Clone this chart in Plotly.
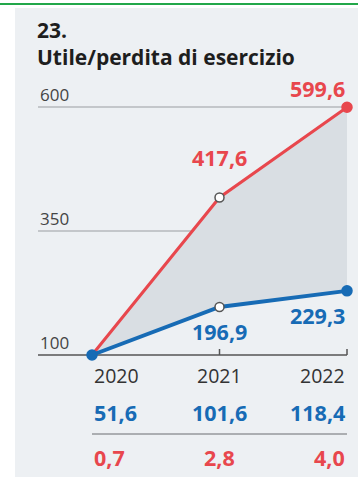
import plotly.graph_objects as go

# Data
years = [2020, 2021, 2022]
index_top = [100.0, 417.6, 599.6]      # red series (index, 2020 = 100)
index_bottom = [100.0, 196.9, 229.3]   # blue series (index, 2020 = 100)
row_blue = ["51,6", "101,6", "118,4"]
row_red = ["0,7", "2,8", "4,0"]
y_ticks = [100, 350, 600]
top_labels = ["", "417,6", "599,6"]
bottom_labels = ["", "196,9", "229,3"]
title_lines = ["23.", "Utile/perdita di esercizio"]

RED = "#e8474d"
BLUE = "#176bb5"
FILL = "#d9dee3"
CARD = "#edf0f3"
GREEN = "#22a74a"
FONT = "Open Sans"

W, H = 358, 477
ML, MR, MT, MB = 38, 6, 100, 115
PW, PH = W - ML - MR, H - MT - MB


def px_x(px):
    return (px - ML) / PW


def px_y(px):
    return (H - MB - px) / PH


fig = go.Figure()

# shaded band between the two series
fig.add_trace(go.Scatter(x=years, y=index_bottom, mode="lines",
                         line=dict(width=0), hoverinfo="skip", showlegend=False))
fig.add_trace(go.Scatter(x=years, y=index_top, mode="lines", fill="tonexty",
                         fillcolor=FILL, line=dict(width=0), hoverinfo="skip",
                         showlegend=False))


def marker_style(color, first_size):
    return dict(
        size=[first_size, 9, 10],
        color=[color, "white", color],
        line=dict(color=[color, "#555555", color], width=1.5),
        opacity=1,
    )


fig.add_trace(go.Scatter(x=years, y=index_top, mode="lines+markers",
                         line=dict(color=RED, width=3), marker=marker_style(RED, 0),
                         cliponaxis=False, showlegend=False))
fig.add_trace(go.Scatter(x=years, y=index_bottom, mode="lines+markers",
                         line=dict(color=BLUE, width=4), marker=marker_style(BLUE, 10),
                         cliponaxis=False, showlegend=False))

x0 = 2020 - 54 / 127.5
x1 = 2022 + 5 / 127.5

shapes = [
    # card background
    dict(type="rect", xref="paper", yref="paper", x0=px_x(15), x1=px_x(W + 5),
         y0=px_y(H + 5), y1=px_y(8), fillcolor=CARD, line=dict(width=0), layer="below"),
    # green rule across the top
    dict(type="rect", xref="paper", yref="paper", x0=px_x(-5), x1=px_x(W + 5),
         y0=px_y(5), y1=px_y(3), fillcolor=GREEN, line=dict(width=0), layer="below"),
]
for t in y_ticks[1:]:
    shapes.append(dict(type="line", xref="x", yref="y", x0=x0, x1=2022, y0=t, y1=t,
                       line=dict(color="#9a9da1", width=1), layer="below"))
# baseline axis
shapes.append(dict(type="line", xref="x", yref="y", x0=x0, x1=2022,
                   y0=y_ticks[0], y1=y_ticks[0], line=dict(color="#555555", width=1.5),
                   layer="below"))
# small ticks rising from the baseline
for yr in years[1:]:
    shapes.append(dict(type="line", xref="x", yref="y", ysizemode="pixel",
                       yanchor=y_ticks[0], x0=yr, x1=yr, y0=0, y1=6,
                       line=dict(color="#555555", width=1.5), layer="below"))
# divider between the two value rows
shapes.append(dict(type="line", xref="x", yref="paper", x0=years[0], x1=years[-1],
                   y0=px_y(434), y1=px_y(434), line=dict(color="#6a6d70", width=1)))

ann = []
# two-line title
ann.append(dict(text="<br>".join(f"<b>{s}</b>" for s in title_lines),
                xref="paper", yref="paper", x=px_x(35), y=px_y(43.5),
                xanchor="left", yanchor="middle", align="left", showarrow=False,
                font=dict(family=FONT, size=21, color="#1e1e1e")))
# y tick labels sitting above their gridlines
for t in y_ticks:
    ann.append(dict(text=str(t), xref="paper", yref="y", x=0, y=t, yshift=13,
                    xanchor="left", yanchor="middle", showarrow=False,
                    font=dict(family=FONT, size=17, color="#444444")))

anchors = ["left", "center", "right"]
for i, yr in enumerate(years):
    ann.append(dict(text=str(yr), xref="x", yref="paper", x=yr, y=px_y(375),
                    xanchor=anchors[i], yanchor="middle", showarrow=False,
                    font=dict(family=FONT, size=19.5, color="#333333")))
    ann.append(dict(text=f"<b>{row_blue[i]}</b>", xref="x", yref="paper", x=yr, y=px_y(412),
                    xanchor=anchors[i], yanchor="middle", showarrow=False,
                    font=dict(family=FONT, size=21.5, color=BLUE)))
    ann.append(dict(text=f"<b>{row_red[i]}</b>", xref="x", yref="paper", x=yr, y=px_y(457),
                    xanchor=anchors[i], yanchor="middle", showarrow=False,
                    font=dict(family=FONT, size=21.5, color=RED)))

# value labels on the lines
for i, yr in enumerate(years):
    if top_labels[i]:
        ann.append(dict(text=f"<b>{top_labels[i]}</b>", xref="x", yref="y", x=yr,
                        y=index_top[i], yshift=40 if i == 1 else 19,
                        xanchor=anchors[i], yanchor="middle", showarrow=False,
                        font=dict(family=FONT, size=21.5, color=RED)))
    if bottom_labels[i]:
        ann.append(dict(text=f"<b>{bottom_labels[i]}</b>", xref="x", yref="y", x=yr,
                        y=index_bottom[i], yshift=-25,
                        xanchor=anchors[i], yanchor="middle", showarrow=False,
                        font=dict(family=FONT, size=21.5, color=BLUE)))

y_lo = 100 - 7 / 0.496
y_hi = 600 + 7 / 0.496

fig.update_layout(
    width=W, height=H,
    margin=dict(l=ML, r=MR, t=MT, b=MB),
    paper_bgcolor="white",
    plot_bgcolor="rgba(0,0,0,0)",
    xaxis=dict(range=[x0, x1], visible=False, fixedrange=True),
    yaxis=dict(range=[y_lo, y_hi], visible=False, fixedrange=True),
    shapes=shapes,
    annotations=ann,
    showlegend=False,
)

fig.write_html("out.html", config={"displayModeBar": False})
